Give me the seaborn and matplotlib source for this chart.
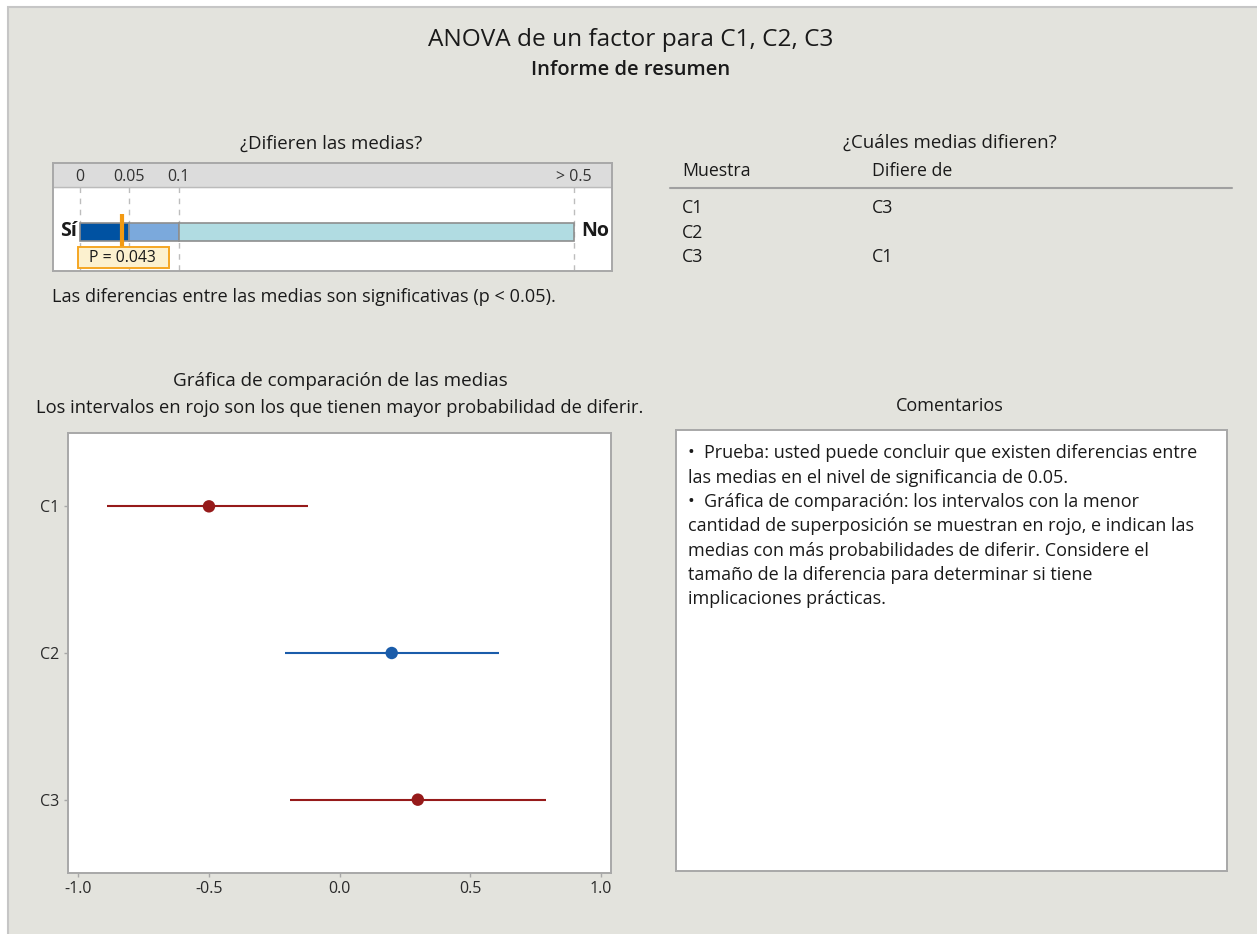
import numpy as np
import pandas as pd
import seaborn as sns
import matplotlib
matplotlib.use("Agg")
from matplotlib import pyplot as plt
from matplotlib.patches import Rectangle
from matplotlib.lines import Line2D

# data
samples = ["C1", "C2", "C3"]
means = [-0.50, 0.20, 0.30]
lower = [-0.89, -0.21, -0.19]
upper = [-0.12, 0.61, 0.79]
is_red = [True, False, True]
differs_from = ["C3", "", "C1"]
p_value = 0.043
p_edges = [0, 0.05, 0.1, 0.5]
p_labels = ["0", "0.05", "0.1", "> 0.5"]
p_colors = ["#0052A2", "#7BA9DC", "#B1DCE2"]
comp_ticks = [-1.0, -0.5, 0.0, 0.5, 1.0]
comments = [
    "\u2022  Prueba: usted puede concluir que existen diferencias entre",
    "las medias en el nivel de significancia de 0.05.",
    "\u2022  Gráfica de comparación: los intervalos con la menor",
    "cantidad de superposición se muestran en rojo, e indican las",
    "medias con más probabilidades de diferir. Considere el",
    "tamaño de la diferencia para determinar si tiene",
    "implicaciones prácticas.",
]

W, H = 1257, 934
BG = "#E3E3DD"
TXT = "#1A1A1A"
EDGE = "#A8A8A8"

sns.set_theme(style="white")
plt.rcParams["font.family"] = ["Open Sans", "DejaVu Sans"]
plt.rcParams["axes.unicode_minus"] = False

fig = plt.figure(figsize=(W / 100, H / 100), dpi=100, facecolor="white")


def px_axes(x0, y0, x1, y1):
    return fig.add_axes([x0 / W, 1 - y1 / H, (x1 - x0) / W, (y1 - y0) / H])


def ftext(x, y, s, **kw):
    kw.setdefault("color", TXT)
    kw.setdefault("va", "center")
    fig.text(x / W, 1 - y / H, s, **kw)


def frame(ax):
    for sp in ax.spines.values():
        sp.set_color(EDGE)
        sp.set_linewidth(1.4)


# report background
fig.patches.append(Rectangle((8 / W, -0.01), 1.0, 1 - 7 / H + 0.01, transform=fig.transFigure,
                             facecolor=BG, edgecolor="#C6C6C6", lw=1.5, zorder=-10))

ftext(631, 40, "ANOVA de un factor para C1, C2, C3", ha="center", fontsize=17.6)
ftext(631, 70, "Informe de resumen", ha="center", fontsize=14.5, fontweight="semibold")

# ---- p-value bar ----
ftext(331, 144, "¿Difieren las medias?", ha="center", fontsize=13.4)
ax1 = px_axes(53, 163, 612, 271)
scale = 988.0
ax1.set_xlim((53 - 80) / scale, (612 - 80) / scale)
ax1.set_ylim(271, 163)
ax1.set_facecolor("white")
ax1.axhspan(163, 187, color="#DCDCDC", zorder=0)
ax1.axhline(187, color="#BBBBBB", lw=1)
ax1.vlines(p_edges, 187, 271, colors="#BDBDBD", lw=1, linestyles=(0, (4, 4)))
ax1.barh(231.5, np.diff(p_edges), left=p_edges[:-1], height=18, color=p_colors,
         edgecolor="#8E8E8E", lw=1.2, zorder=2)
for e, lab in zip(p_edges, p_labels):
    ax1.text(e, 177, lab, ha="center", va="center", fontsize=11.5, color="#333333")
ax1.annotate("Sí", (p_edges[0], 231.5), xytext=(-2, 0), textcoords="offset points",
             ha="right", va="center", fontsize=14, fontweight="bold", color=TXT)
ax1.annotate("No", (p_edges[-1], 231.5), xytext=(5, 0), textcoords="offset points",
             ha="left", va="center", fontsize=14, fontweight="bold", color=TXT)
ax1.vlines(p_value, 214, 248, colors="#F39A12", lw=3, zorder=4)
ax1.add_patch(Rectangle((-2 / scale, 247), 91 / scale, 21, facecolor="#FCF1CF",
                        edgecolor="#F5A623", lw=1.4, zorder=5))
ax1.text(9 / scale, 257.5, f"P = {p_value:.3f}", ha="left", va="center", fontsize=11.3,
         color=TXT, zorder=6)
ax1.set_xticks([])
ax1.set_yticks([])
frame(ax1)
ftext(52, 297, "Las diferencias entre las medias son significativas (p < 0.05).",
      fontsize=13.1)

# ---- which means differ ----
ftext(950, 143, "¿Cuáles medias difieren?", ha="center", fontsize=13.4)
ftext(682, 171, "Muestra", fontsize=12.8)
ftext(872, 171, "Difiere de", fontsize=12.8)
fig.add_artist(Line2D([670 / W, 1232 / W], [1 - 188 / H] * 2, color="#A0A0A0", lw=1.5))
for i, (s, d) in enumerate(zip(samples, differs_from)):
    y = 208 + i * 24.5
    ftext(682, y, s, fontsize=12.8)
    ftext(872, y, d, fontsize=12.8)

# ---- comparison chart ----
ftext(340, 381, "Gráfica de comparación de las medias", ha="center", fontsize=13.6)
ftext(340, 408, "Los intervalos en rojo son los que tienen mayor probabilidad de diferir.",
      ha="center", fontsize=13.2)
ax2 = px_axes(68, 433, 611, 873)
df = pd.DataFrame({"sample": samples, "mean": means, "lower": lower, "upper": upper,
                   "grupo": np.where(is_red, "rojo", "azul")})
palette = {"rojo": "#961A1A", "azul": "#1A5CAA"}
ax2.set_facecolor("white")
ax2.hlines(range(len(samples)), df["lower"], df["upper"], colors=df["grupo"].map(palette), lw=1.5)
sns.scatterplot(data=df, x="mean", y="sample", hue="grupo", palette=palette, s=80,
                edgecolor="none", legend=False, ax=ax2, zorder=3)
ax2.set_ylim(len(samples) - 0.5, -0.5)
ax2.set_xlim(-1.04, 1.04)
ax2.set_xticks(comp_ticks)
ax2.set_xticklabels([f"{t:.1f}" for t in comp_ticks])
ax2.set_xlabel("")
ax2.set_ylabel("")
ax2.tick_params(left=True, bottom=True, length=3, width=1, color=EDGE, labelsize=11.5,
                labelcolor="#2A2A2A", pad=3)
frame(ax2)

# ---- comments ----
ftext(950, 406, "Comentarios", ha="center", fontsize=13)
ax3 = px_axes(676, 430, 1227, 871)
ax3.set_facecolor("white")
ax3.set_xticks([])
ax3.set_yticks([])
frame(ax3)
for i, line in enumerate(comments):
    ftext(688, 453.3 + i * 24.3, line, fontsize=13)

plt.savefig("out.png", dpi=100, facecolor=fig.get_facecolor())
